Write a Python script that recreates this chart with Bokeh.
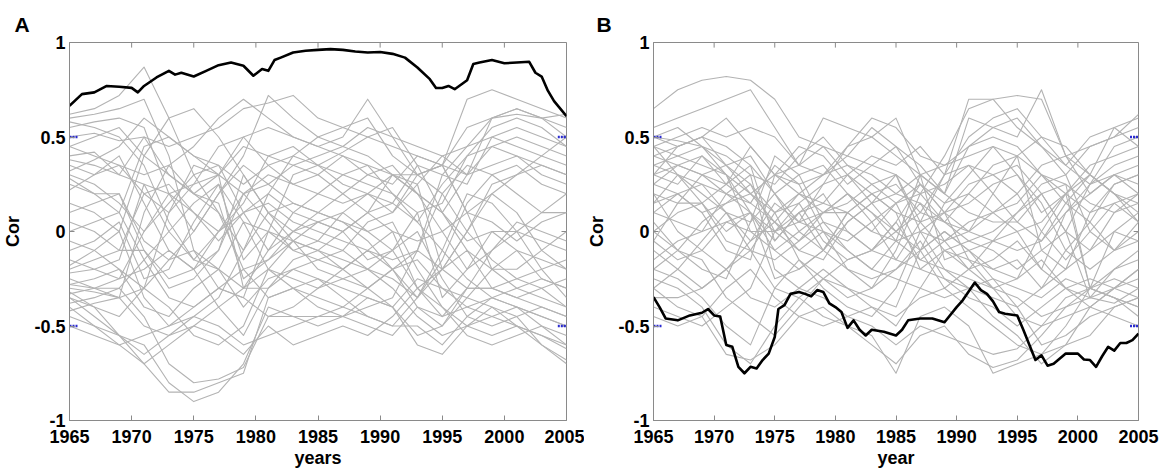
from bokeh.plotting import figure
from bokeh.layouts import row
from bokeh.models import FixedTicker, Range1d
from bokeh.embed import file_html
from bokeh.resources import INLINE

# ---------------- data ----------------
years = [1965, 1967, 1969, 1971, 1973, 1975, 1977, 1979, 1981, 1983, 1985,
         1987, 1989, 1991, 1993, 1995, 1997, 1999, 2001, 2003, 2005]

A_grey = [
    [0.62,0.65,0.72,0.87,0.6,0.3,0.1,-0.1,0.2,0.4,0.5,0.45,0.4,0.3,0.2,0.1,-0.1,-0.3,-0.35,-0.3,-0.25],
    [0.6,0.62,0.65,0.7,0.4,-0.1,-0.3,-0.35,0.0,0.3,0.35,0.42,0.5,0.55,0.35,0.1,0.3,0.6,0.65,0.6,0.55],
    [0.55,0.58,0.6,0.55,0.2,0.0,0.2,0.4,0.72,0.6,0.5,0.55,0.6,0.4,0.3,0.35,0.7,0.75,0.7,0.65,0.6],
    [0.5,0.52,0.48,0.5,0.45,0.5,0.55,0.65,0.68,0.72,0.6,0.55,0.5,0.45,0.4,0.35,0.1,0.2,0.3,0.4,0.5],
    [0.45,0.5,0.55,0.4,0.6,0.65,0.5,0.3,0.1,0.0,0.05,0.1,0.0,-0.1,-0.3,-0.45,-0.3,-0.1,0.0,0.1,0.2],
    [0.4,0.42,0.3,0.5,0.3,0.2,0.3,0.5,0.55,0.5,0.45,0.5,0.7,0.5,0.3,0.35,0.55,0.6,0.62,0.6,0.62],
    [0.35,0.3,0.35,0.2,0.1,0.25,0.45,0.5,0.35,0.25,0.3,0.4,0.3,0.35,0.2,0.0,-0.2,-0.1,0.05,0.0,-0.05],
    [0.3,0.25,0.15,0.0,0.15,0.3,0.35,0.1,-0.1,0.0,0.1,0.2,0.3,0.25,0.4,0.35,0.3,0.45,0.5,0.45,0.4],
    [0.28,0.2,0.1,-0.15,0.0,0.15,0.25,0.05,0.0,-0.05,-0.1,0.0,0.1,0.15,0.35,0.3,0.25,0.5,0.55,0.5,0.45],
    [0.22,0.3,0.4,0.15,-0.1,-0.2,-0.1,0.2,0.3,0.25,0.2,0.15,0.2,0.1,0.25,-0.2,0.0,0.25,0.3,0.35,0.3],
    [0.15,0.1,0.0,0.4,0.3,0.2,0.1,-0.2,-0.15,0.0,-0.05,-0.1,0.05,0.1,0.3,0.35,0.1,-0.2,-0.2,-0.1,0.0],
    [0.05,0.0,-0.1,0.2,0.25,0.1,0.0,0.1,0.15,0.05,0.0,-0.05,-0.1,-0.15,-0.1,0.2,0.35,0.3,0.2,0.1,0.1],
    [-0.05,-0.1,-0.2,-0.3,0.1,0.35,0.3,-0.3,-0.1,0.1,0.2,0.3,0.35,0.2,0.05,-0.1,-0.25,-0.35,-0.4,-0.45,-0.5],
    [-0.1,-0.05,0.05,-0.25,-0.2,0.05,0.25,-0.15,0.0,-0.1,-0.15,-0.2,-0.1,0.0,-0.3,-0.2,0.0,0.2,0.1,-0.1,-0.2],
    [-0.2,-0.15,-0.1,-0.1,-0.3,-0.25,-0.1,0.3,0.1,-0.05,-0.2,-0.25,-0.2,-0.25,-0.35,-0.1,0.2,0.15,0.0,-0.2,-0.35],
    [-0.25,-0.3,-0.3,-0.15,-0.35,-0.4,-0.3,-0.2,-0.35,-0.3,-0.25,-0.3,-0.35,-0.4,-0.25,-0.3,-0.4,-0.45,-0.5,-0.55,-0.6],
    [-0.28,-0.25,-0.2,-0.4,-0.45,-0.3,-0.2,0.05,-0.2,-0.25,-0.3,-0.2,-0.1,-0.2,-0.4,-0.5,-0.3,-0.3,-0.35,-0.4,-0.45],
    [-0.3,-0.32,-0.35,-0.5,-0.55,-0.5,-0.4,-0.3,-0.3,-0.2,-0.15,-0.1,-0.2,-0.3,-0.45,-0.55,-0.5,-0.45,-0.4,-0.45,-0.5],
    [-0.32,-0.4,-0.55,-0.7,-0.85,-0.85,-0.8,-0.75,-0.35,-0.3,-0.35,-0.4,-0.45,-0.5,-0.5,-0.6,-0.45,-0.35,-0.3,-0.25,-0.3],
    [-0.35,-0.45,-0.55,-0.6,-0.8,-0.9,-0.85,-0.7,-0.4,-0.45,-0.5,-0.45,-0.35,-0.4,-0.6,-0.65,-0.5,-0.4,-0.45,-0.6,-0.68],
    [-0.38,-0.35,-0.3,-0.45,-0.7,-0.8,-0.78,-0.72,-0.45,-0.4,-0.3,-0.25,-0.3,-0.2,-0.15,-0.3,-0.35,-0.4,-0.5,-0.6,-0.7],
    [-0.4,-0.5,-0.6,-0.7,-0.6,-0.5,-0.55,-0.65,-0.5,-0.6,-0.55,-0.5,-0.55,-0.45,-0.3,-0.4,-0.55,-0.6,-0.55,-0.5,-0.6],
    [-0.45,-0.5,-0.55,-0.65,-0.55,-0.45,-0.5,-0.6,-0.55,-0.5,-0.45,-0.45,-0.5,-0.55,-0.4,-0.45,-0.4,-0.35,-0.4,-0.5,-0.55],
    [-0.5,-0.55,-0.6,-0.55,-0.5,-0.4,-0.3,-0.35,-0.45,-0.45,-0.45,-0.4,-0.3,-0.2,-0.1,-0.2,-0.3,-0.3,-0.25,-0.3,-0.4],
    [0.38,0.35,0.3,0.25,0.2,0.1,-0.05,0.1,0.2,0.1,0.05,0.0,0.1,0.3,0.25,0.4,0.45,0.5,0.45,0.4,0.35],
    [0.25,0.2,0.2,-0.1,-0.25,-0.2,0.0,0.2,0.05,-0.1,-0.05,0.1,0.2,0.3,0.3,0.2,0.0,-0.15,-0.25,-0.2,-0.15],
    [-0.15,-0.2,-0.25,0.0,0.2,0.25,0.3,0.45,0.4,0.35,0.3,0.2,0.1,0.0,-0.05,0.0,0.1,0.05,-0.05,0.05,0.1],
    [-0.33,-0.3,-0.25,-0.2,-0.1,-0.2,-0.4,-0.55,-0.3,-0.15,-0.1,-0.15,-0.2,-0.1,0.0,-0.25,-0.45,-0.5,-0.45,-0.4,-0.45],
    [0.0,0.05,0.1,0.45,0.5,0.4,0.3,0.2,0.25,0.35,0.4,0.45,0.55,0.5,0.45,0.4,0.3,0.35,0.4,0.35,0.3],
    [-0.22,-0.2,-0.15,0.25,0.0,-0.15,-0.2,-0.3,-0.2,-0.3,-0.4,-0.45,-0.4,-0.35,-0.1,0.3,0.45,0.6,0.65,0.6,0.5],
    [0.45,0.4,0.35,0.3,0.35,0.45,0.6,0.7,0.6,0.5,0.45,0.4,0.35,0.3,0.2,0.1,-0.05,0.0,0.0,-0.05,-0.1],
    [-0.42,-0.38,-0.35,-0.3,-0.4,-0.55,-0.6,-0.5,-0.2,-0.05,-0.1,-0.2,-0.3,-0.4,-0.55,-0.5,-0.35,-0.2,-0.1,-0.15,-0.2],
    [0.58,0.55,0.5,0.35,0.05,-0.15,0.0,0.15,0.4,0.45,0.35,0.3,0.25,0.2,0.1,0.15,0.4,0.55,0.6,0.55,0.45],
    [-0.28,-0.3,-0.35,0.1,0.35,0.2,0.15,-0.25,-0.15,-0.05,0.05,0.0,-0.15,-0.1,0.1,-0.35,-0.2,0.0,-0.1,-0.25,-0.3],
    [0.1,0.15,0.2,-0.05,-0.15,0.0,0.2,0.35,0.25,0.15,0.1,0.05,-0.05,-0.2,-0.35,-0.15,0.15,0.3,0.35,0.25,0.2],
    [-0.35,-0.4,-0.45,-0.3,-0.15,-0.1,-0.2,-0.4,-0.25,-0.2,-0.25,-0.35,-0.45,-0.5,-0.35,-0.2,-0.1,-0.2,-0.3,-0.35,-0.4],
    [0.32,0.38,0.45,0.6,0.5,0.4,0.35,0.25,0.35,0.4,0.35,0.25,0.2,0.15,0.05,0.25,0.4,0.45,0.4,0.3,0.25],
    [-0.18,-0.1,0.0,-0.35,-0.5,-0.45,-0.35,-0.1,0.1,0.15,0.1,0.05,0.0,0.05,-0.2,-0.4,-0.5,-0.55,-0.5,-0.55,-0.62],
]

B_grey = [
    [0.65,0.75,0.8,0.82,0.8,0.7,0.5,0.45,0.3,0.2,0.1,0.05,0.3,0.7,0.7,0.72,0.7,0.4,0.2,0.3,0.35],
    [0.55,0.6,0.65,0.7,0.75,0.55,0.35,0.6,0.55,0.5,0.6,0.3,0.2,0.6,0.55,0.5,0.75,0.4,0.3,0.55,0.6],
    [0.5,0.45,0.5,0.6,0.45,0.3,0.35,0.45,0.4,0.35,0.3,0.2,0.4,0.65,0.7,0.55,0.45,0.3,0.45,0.5,0.62],
    [0.45,0.4,0.35,0.3,0.2,0.1,0.2,0.3,0.45,0.5,0.4,0.3,0.35,0.4,0.45,0.3,0.1,0.2,0.35,0.4,0.45],
    [0.4,0.45,0.5,0.45,0.35,-0.05,0.1,0.15,0.1,0.0,0.15,0.25,0.1,0.0,0.2,0.4,0.5,0.35,0.25,0.3,0.2],
    [0.35,0.3,0.2,0.1,0.05,0.2,0.3,0.35,0.2,0.1,0.0,0.1,0.05,0.2,0.35,0.4,-0.1,-0.2,0.1,0.25,0.3],
    [0.3,0.25,0.4,0.3,0.0,-0.1,0.0,0.1,0.15,0.25,0.3,0.0,-0.05,0.05,0.1,0.15,0.3,0.25,-0.3,0.0,0.1],
    [0.25,0.35,0.3,0.2,0.15,0.35,0.25,0.0,-0.05,0.05,0.15,-0.1,0.0,-0.1,-0.05,0.0,0.05,0.2,0.3,0.2,0.15],
    [0.2,0.0,-0.1,0.05,0.1,-0.05,0.1,0.2,0.0,-0.1,0.05,0.25,0.1,-0.15,-0.2,-0.15,-0.3,-0.1,0.05,-0.1,-0.05],
    [0.15,0.3,0.25,0.1,-0.05,0.05,-0.1,-0.15,0.05,0.15,0.2,0.3,0.2,0.1,0.05,0.05,0.2,0.0,-0.35,-0.2,-0.1],
    [0.1,0.2,0.1,-0.1,-0.15,0.3,0.2,0.1,0.2,0.05,-0.15,0.05,-0.1,-0.2,-0.15,-0.05,-0.2,0.1,0.2,0.3,0.25],
    [0.05,-0.1,-0.2,-0.25,0.05,0.4,0.3,0.05,-0.1,-0.2,-0.05,0.3,-0.15,-0.1,-0.2,-0.25,0.0,0.2,-0.3,-0.35,-0.4],
    [0.0,0.1,0.15,0.0,0.1,-0.25,-0.2,-0.1,0.1,0.2,0.25,0.1,0.3,0.35,0.2,0.05,-0.05,0.15,0.3,0.2,0.05],
    [-0.05,0.15,0.3,0.35,0.25,0.0,-0.1,0.0,-0.2,-0.3,-0.1,0.2,0.05,-0.05,0.0,0.1,0.25,0.3,0.0,-0.1,0.0],
    [-0.1,-0.2,-0.3,-0.2,-0.1,0.1,0.15,-0.05,-0.15,-0.1,0.05,-0.15,-0.2,-0.25,-0.3,-0.35,-0.45,-0.4,-0.3,-0.25,-0.3],
    [-0.15,-0.05,0.0,0.2,0.3,-0.2,-0.3,-0.2,-0.3,-0.35,-0.4,-0.1,0.0,-0.1,-0.25,-0.4,-0.6,-0.55,-0.45,-0.4,-0.35],
    [-0.2,-0.25,-0.35,-0.5,-0.6,-0.3,-0.15,-0.3,-0.4,-0.45,-0.3,0.0,-0.2,-0.3,-0.45,-0.55,-0.7,-0.6,-0.4,-0.3,-0.2],
    [-0.25,-0.3,-0.4,-0.6,-0.7,-0.5,-0.35,-0.45,-0.5,-0.55,-0.75,-0.45,-0.4,-0.5,-0.75,-0.7,-0.65,-0.5,-0.3,-0.35,-0.45],
    [-0.3,-0.4,-0.45,-0.65,-0.68,-0.6,-0.45,-0.4,-0.5,-0.6,-0.7,-0.55,-0.5,-0.65,-0.72,-0.68,-0.55,-0.4,-0.35,-0.38,-0.3],
    [-0.4,-0.45,-0.5,-0.4,-0.3,0.0,0.1,-0.1,-0.2,-0.25,-0.2,-0.05,-0.25,-0.35,-0.4,-0.5,-0.4,-0.3,-0.25,-0.3,-0.25],
    [0.45,0.5,0.55,0.5,0.55,0.5,0.35,0.3,0.4,0.55,0.45,0.25,0.15,0.3,0.45,0.4,0.3,0.2,0.1,0.15,0.2],
    [0.3,0.35,0.3,0.25,0.45,0.3,0.25,0.3,0.35,0.3,0.2,0.15,0.05,0.0,-0.05,-0.1,-0.05,0.1,0.25,0.35,0.4],
    [0.1,0.05,0.0,0.05,0.0,0.0,0.05,0.1,0.1,0.0,-0.05,0.0,0.1,0.15,0.25,0.3,0.15,-0.1,-0.2,-0.1,0.05],
    [0.2,0.15,0.15,-0.05,-0.1,-0.15,-0.05,0.05,0.0,-0.1,-0.15,-0.2,-0.1,-0.05,-0.1,-0.2,-0.1,0.0,-0.1,0.1,0.2],
    [-0.35,-0.35,-0.3,-0.2,-0.05,0.15,0.05,0.0,-0.1,-0.2,-0.25,-0.3,-0.35,-0.3,-0.25,-0.3,-0.35,-0.25,-0.3,-0.2,-0.15],
    [-0.45,-0.5,-0.45,-0.3,-0.2,-0.35,-0.45,-0.5,-0.45,-0.5,-0.6,-0.5,-0.55,-0.6,-0.65,-0.62,-0.5,-0.45,-0.4,-0.45,-0.5],
    [0.4,0.35,0.4,0.25,0.15,0.05,0.2,0.15,0.3,0.4,0.35,0.45,0.3,0.5,0.6,0.65,0.5,0.45,0.3,0.2,0.1],
    [0.35,0.4,0.45,0.4,0.3,0.25,0.4,0.5,0.35,0.25,0.15,0.2,0.25,0.35,0.3,0.2,0.35,0.4,0.45,0.5,0.55],
    [-0.05,-0.15,-0.1,-0.2,-0.35,-0.4,-0.3,-0.35,-0.45,-0.4,-0.45,-0.35,-0.3,-0.4,-0.5,-0.6,-0.65,-0.6,-0.55,-0.4,-0.35],
    [0.25,0.2,0.1,0.15,0.25,0.1,-0.15,-0.25,-0.35,-0.3,-0.2,-0.1,0.15,0.2,0.1,0.0,-0.2,-0.3,-0.35,-0.3,-0.2],
    [0.5,0.48,0.45,0.35,0.4,0.2,0.05,0.25,0.3,0.15,0.0,-0.1,-0.3,-0.2,-0.05,0.1,0.2,0.25,0.15,0.1,0.15],
    [0.15,0.2,0.25,0.2,0.1,-0.1,-0.2,-0.1,0.1,0.2,0.1,-0.2,-0.25,-0.3,-0.35,-0.4,-0.3,-0.2,-0.1,0.0,-0.05],
    [0.45,0.3,0.15,0.25,0.35,0.2,0.0,-0.1,0.05,0.15,0.3,0.05,0.1,0.25,0.3,0.35,0.2,0.0,0.25,0.45,0.5],
    [-0.3,-0.2,-0.05,0.1,-0.1,-0.3,-0.35,-0.25,-0.15,-0.1,0.0,0.15,-0.05,-0.2,-0.3,-0.25,-0.15,-0.3,-0.4,-0.3,-0.35],
    [0.3,0.45,0.5,0.35,0.2,0.3,0.45,0.4,0.25,0.35,0.45,0.35,0.2,0.45,0.5,0.45,0.3,0.15,0.05,0.25,0.3],
    [0.0,-0.1,0.05,0.15,0.2,0.05,-0.05,0.1,0.2,0.1,-0.05,-0.15,-0.05,0.0,0.1,0.2,0.0,-0.15,0.0,0.15,0.05],
    [-0.2,-0.1,-0.15,-0.35,-0.45,-0.55,-0.4,-0.25,-0.3,-0.4,-0.5,-0.3,-0.1,-0.15,-0.3,-0.45,-0.5,-0.35,-0.3,-0.35,-0.4],
    [0.5,0.55,0.45,0.3,0.1,0.0,0.15,0.25,0.45,0.6,0.55,0.4,0.35,0.45,0.55,0.6,0.45,0.35,0.5,0.55,0.45],
]

A_black_years = [1965,1966,1967,1968,1969,1970,1970.5,1971,1972,1973,1973.5,1974,1975,1976,1977,
                 1978,1979,1979.8,1980.5,1981,1981.5,1982,1983,1984,1985,1986,1987,1988,1989,1990,
                 1991,1992,1993,1994,1994.5,1995,1995.5,1996,1997,1997.5,1998,1999,2000,2001,2002,
                 2002.5,2003,2003.5,2004,2005]
A_black_cor = [0.665,0.727,0.736,0.77,0.766,0.76,0.736,0.77,0.815,0.85,0.83,0.84,0.82,0.85,0.88,
               0.894,0.877,0.824,0.86,0.85,0.907,0.92,0.947,0.956,0.961,0.965,0.961,0.952,0.947,0.95,
               0.94,0.92,0.868,0.806,0.759,0.759,0.77,0.753,0.80,0.886,0.894,0.907,0.89,0.894,0.898,
               0.84,0.82,0.745,0.69,0.61]

B_black_years = [1965,1965.5,1966,1967,1968,1969,1969.5,1970,1970.5,1971,1971.5,1972,1972.5,1973,
                 1973.5,1974,1974.5,1975,1975.3,1975.8,1976.3,1977,1977.5,1978,1978.5,1979,1979.5,
                 1980,1980.5,1981,1981.5,1982,1982.5,1983,1984,1985,1985.5,1986,1987,1988,1989,1990,
                 1990.5,1991.5,1992,1992.5,1993,1993.5,1994,1995,1995.5,1996.5,1997,1997.5,1998,1999,
                 2000,2000.5,2001,2001.5,2002,2002.5,2003,2003.5,2004,2004.5,2005]
B_black_cor = [-0.347,-0.40,-0.46,-0.47,-0.444,-0.43,-0.41,-0.444,-0.45,-0.60,-0.61,-0.716,-0.75,
               -0.716,-0.725,-0.68,-0.646,-0.558,-0.41,-0.39,-0.33,-0.32,-0.33,-0.343,-0.31,-0.32,
               -0.38,-0.40,-0.426,-0.51,-0.47,-0.52,-0.55,-0.52,-0.53,-0.55,-0.52,-0.47,-0.46,-0.46,
               -0.48,-0.40,-0.364,-0.27,-0.31,-0.33,-0.37,-0.426,-0.435,-0.444,-0.52,-0.68,-0.655,
               -0.71,-0.70,-0.646,-0.646,-0.677,-0.68,-0.716,-0.66,-0.61,-0.63,-0.59,-0.59,-0.575,-0.54]

thresholds = [0.5, -0.5]
x_ticks = [1965, 1970, 1975, 1980, 1985, 1990, 1995, 2000, 2005]
y_ticks = [-1, -0.5, 0, 0.5, 1]
y_tick_labels = ["-1", "-0.5", "0", "0.5", "1"]

# ---------------- styling ----------------
FONT = "Liberation Sans"
FRAME = "#8a8a8a"
GREY = "#b3b3b3"
BLUE = "#2a2ad0"


def style_axis(ax):
    ax.axis_line_color = FRAME
    ax.major_tick_line_color = FRAME
    ax.major_tick_in = 5
    ax.major_tick_out = 0
    ax.minor_tick_line_color = None
    ax.major_label_text_font = FONT
    ax.major_label_text_font_style = "bold"
    ax.major_label_text_font_size = "18px"
    ax.major_label_text_color = "black"
    ax.axis_label_text_font = FONT
    ax.axis_label_text_font_style = "bold"
    ax.axis_label_text_font_size = "18px"
    ax.axis_label_text_color = "black"


def make_panel(letter, xlabel, grey, bx, by, width, left, right, title_offset):
    p = figure(width=width, height=474, output_backend="svg", toolbar_location=None,
               x_range=Range1d(1965, 2005), y_range=Range1d(-1, 1),
               min_border_left=left, min_border_right=right,
               min_border_top=42, min_border_bottom=54,
               x_axis_label=xlabel, y_axis_label="Cor", title=letter)
    p.background_fill_color = "white"
    p.border_fill_color = "white"
    p.outline_line_color = FRAME
    p.grid.visible = False

    p.title.align = "left"
    p.title.offset = title_offset
    p.title.standoff = 14
    p.title.text_font = FONT
    p.title.text_font_style = "bold"
    p.title.text_font_size = "21px"
    p.title.text_color = "black"

    p.multi_line(xs=[years] * len(grey), ys=grey, line_color=GREY, line_width=1.1,
                 line_join="round")
    p.line(bx, by, line_color="black", line_width=2.6, line_join="round")

    # inner tick marks on the top and right edges of the box
    x0, x1 = x_ticks[0], x_ticks[-1]
    y1 = y_ticks[-1]
    p.segment(x0=x_ticks, y0=[y1] * len(x_ticks), x1=x_ticks,
              y1=[y1 - 0.027] * len(x_ticks), line_color=FRAME, line_width=1)
    p.segment(x0=[x1] * len(y_ticks), y0=y_ticks, x1=[x1 - 0.4] * len(y_ticks),
              y1=y_ticks, line_color=FRAME, line_width=1)

    # blue reference marks at +/-0.5 on both edges
    for t in thresholds:
        p.segment(x0=[x0], y0=[t], x1=[x0 + 0.7], y1=[t],
                  line_color=BLUE, line_width=2.5, line_dash="2 1")
        p.segment(x0=[x1 - 0.7], y0=[t], x1=[x1], y1=[t],
                  line_color=BLUE, line_width=2.5, line_dash="2 1")

    xa = p.xaxis[0]
    ya = p.yaxis[0]
    xa.ticker = FixedTicker(ticks=x_ticks)
    ya.ticker = FixedTicker(ticks=y_ticks)
    ya.major_label_overrides = {t: s for t, s in zip(y_ticks, y_tick_labels)}
    style_axis(xa)
    style_axis(ya)
    xa.major_label_standoff = 9
    xa.axis_label_standoff = 2
    ya.major_label_standoff = 4
    ya.axis_label_standoff = 8
    return p


pA = make_panel("A", "years", A_grey, A_black_years, A_black_cor,
                width=584, left=69, right=18, title_offset=-55)
pB = make_panel("B", "year", B_grey, B_black_years, B_black_cor,
                width=578, left=64, right=24, title_offset=-57)

layout = row(pA, pB)
open("out.html", "w").write(file_html(layout, INLINE))
